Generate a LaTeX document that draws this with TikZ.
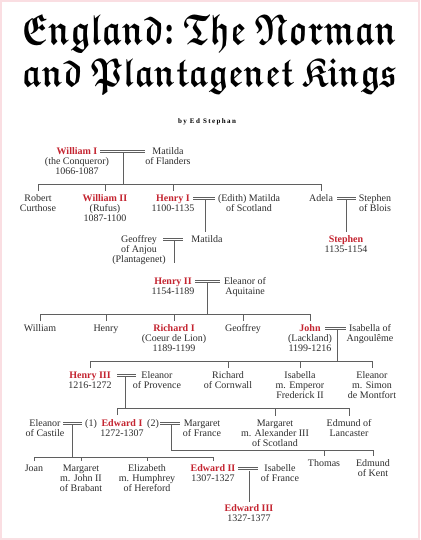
\documentclass[tikz,border=0pt]{standalone}
\usepackage{amssymb}
\usepackage{fontspec}
\setmainfont{Liberation Serif}
\usepackage{graphicx}
\newfontfamily\byfont[LetterSpace=20]{Liberation Serif}
\definecolor{kred}{RGB}{196,36,48}
\definecolor{txt}{RGB}{45,45,45}
\definecolor{ln}{RGB}{95,95,95}
\definecolor{pinkframe}{RGB}{250,222,226}
\newcommand{\kn}[1]{{\bfseries\color{kred}#1}}
\newcommand{\blk}[1]{{\boldmath$\mathfrak{#1}$}}
\begin{document}
\begin{tikzpicture}[x=1pt,y=-1pt,
  person/.style={align=center,anchor=north,inner sep=0pt,font=\fontsize{10}{10}\selectfont,text=txt},
  wed/.style={draw=ln,line width=0.6pt,double=white,double distance=1.6pt},
  kin/.style={draw=ln,line width=0.8pt}]
\useasboundingbox (0,0) rectangle (420,540);
\fill[white] (0,0) rectangle (420,540);
\draw[pinkframe,line width=2.5pt] (1.2,1.2) rectangle (418.8,538.8);

% title
\node[anchor=base,inner sep=0pt] (t1) at (209.5,45) {\resizebox{375pt}{30pt}{\blk{England{:}\ The\ Norman}}};
\node[anchor=base,inner sep=0pt] (t2) at (209.5,87) {\resizebox{375pt}{28pt}{\blk{and\ Plantagenet\ Kings}}};
\node[inner sep=0pt,font=\fontsize{7}{7}\byfont\bfseries,text=black] (by) at (207,122) {by Ed Stephan};

% people
\node[person] (wm1) at (77,147.5) {\kn{William I}\\(the Conqueror)\\1066-1087};
\node[person] (matf) at (168,147.5) {Matilda\\of Flanders};
\node[person] (robert) at (38,194.5) {Robert\\Curthose};
\node[person] (wm2) at (105,194.5) {\kn{William II}\\(Rufus)\\1087-1100};
\node[person] (hen1) at (173,194.5) {\kn{Henry I}\\1100-1135};
\node[person] (edith) at (249,194.5) {(Edith) Matilda\\of Scotland};
\node[person] (adela) at (321,194.5) {Adela};
\node[person] (stepb) at (375,194.5) {Stephen\\of Blois};
\node[person] (geoff) at (139,235.5) {Geoffrey\\of Anjou\\(Plantagenet)};
\node[person] (matil) at (207,235.5) {Matilda};
\node[person] (steph) at (346,235.5) {\kn{Stephen}\\1135-1154};
\node[person] (hen2) at (173,277.5) {\kn{Henry II}\\1154-1189};
\node[person] (elaq) at (245,277.5) {Eleanor of\\Aquitaine};
\node[person] (wil) at (40,324.5) {William};
\node[person] (hen) at (106,324.5) {Henry};
\node[person] (ric1) at (174,324.5) {\kn{Richard I}\\(Coeur de Lion)\\1189-1199};
\node[person] (geo) at (243,324.5) {Geoffrey};
\node[person] (john) at (310,324.5) {\kn{John}\\(Lackland)\\1199-1216};
\node[person] (isang) at (370,324.5) {Isabella of\\Angoulême};
\node[person] (hen3) at (90,371.5) {\kn{Henry III}\\1216-1272};
\node[person] (elprov) at (157,371.5) {Eleanor\\of Provence};
\node[person] (riccorn) at (228,371.5) {Richard\\of Cornwall};
\node[person] (isab) at (300,371.5) {Isabella\\m. Emperor\\Frederick II};
\node[person] (elsim) at (372,371.5) {Eleanor\\m. Simon\\de Montfort};
\node[person] (elcast) at (45,419.5) {Eleanor\\of Castile};
\node[person] (nA) at (91,419.5) {(1)};
\node[person] (ed1) at (122,419.5) {\kn{Edward I}\\1272-1307};
\node[person] (nB) at (153,419.5) {(2)};
\node[person] (marfr) at (202,419.5) {Margaret\\of France};
\node[person] (maralex) at (275,419.5) {Margaret\\m. Alexander III\\of Scotland};
\node[person] (edlanc) at (349,419.5) {Edmund of\\Lancaster};
\node[person] (joan) at (34,464.5) {Joan};
\node[person] (marbrab) at (81,464.5) {Margaret\\m. John II\\of Brabant};
\node[person] (eliz) at (147,464.5) {Elizabeth\\m. Humphrey\\of Hereford};
\node[person] (ed2) at (213,464.5) {\kn{Edward II}\\1307-1327};
\node[person] (isfr) at (280,464.5) {Isabelle\\of France};
\node[person] (thomas) at (324,459.5) {Thomas};
\node[person] (edkent) at (373,459.5) {Edmund\\of Kent};
\node[person] (ed3) at (249,504.5) {\kn{Edward III}\\1327-1377};

% William I + Matilda of Flanders
\coordinate (m1a) at (100,151.5); \coordinate (m1b) at (145,151.5);
\coordinate (c1) at (123,152.5); \coordinate (b1) at (123,184);
\draw[wed] (m1a) -- (m1b);
\draw[kin] (c1) -- (b1);
\draw[kin] ([yshift=3.5pt]robert.north) -- (robert.north |- b1) -- (adela.north |- b1) -- ([yshift=3.5pt]adela.north);
\draw[kin] (wm2.north |- b1) -- ([yshift=3.5pt]wm2.north);
\draw[kin] (hen1.north |- b1) -- ([yshift=3.5pt]hen1.north);

% Henry I + Edith
\coordinate (m2a) at (193,198.5); \coordinate (m2b) at (215,198.5);
\coordinate (c2) at (205,199.5); \coordinate (d2) at (205,232);
\draw[wed] (m2a) -- (m2b);
\draw[kin] (c2) -- (d2);

% Adela + Stephen of Blois
\coordinate (m3a) at (337,198.5); \coordinate (m3b) at (356,198.5);
\coordinate (c3) at (346,199.5);
\draw[wed] (m3a) -- (m3b);
\draw[kin] (c3) -- ([yshift=4pt]steph.north);

% Geoffrey + Matilda
\coordinate (m4a) at (163,239.5); \coordinate (m4b) at (183,239.5);
\coordinate (c4) at (174,240.5); \coordinate (d4) at (174,263);
\draw[wed] (m4a) -- (m4b);
\draw[kin] (c4) -- (d4);

% Henry II + Eleanor of Aquitaine
\coordinate (m5a) at (195,281.5); \coordinate (m5b) at (220,281.5);
\coordinate (c5) at (207,282.5); \coordinate (b5) at (207,314);
\draw[wed] (m5a) -- (m5b);
\draw[kin] (c5) -- (b5);
\draw[kin] ([yshift=3.5pt]wil.north) -- (wil.north |- b5) -- (john.north |- b5) -- ([yshift=3.5pt]john.north);
\draw[kin] (hen.north |- b5) -- ([yshift=3.5pt]hen.north);
\draw[kin] (ric1.north |- b5) -- ([yshift=3.5pt]ric1.north);
\draw[kin] (geo.north |- b5) -- ([yshift=3.5pt]geo.north);

% John + Isabella of Angouleme
\coordinate (m6a) at (325,328.5); \coordinate (m6b) at (346,328.5);
\coordinate (c6) at (337,329.5); \coordinate (b6) at (337,361);
\draw[wed] (m6a) -- (m6b);
\draw[kin] (c6) -- (b6);
\draw[kin] ([yshift=3.5pt]hen3.north) -- (hen3.north |- b6) -- (elsim.north |- b6) -- ([yshift=3.5pt]elsim.north);
\draw[kin] (riccorn.north |- b6) -- ([yshift=3.5pt]riccorn.north);
\draw[kin] (isab.north |- b6) -- ([yshift=3.5pt]isab.north);

% Henry III + Eleanor of Provence
\coordinate (m7a) at (117,375.5); \coordinate (m7b) at (136,375.5);
\coordinate (c7) at (125,376.5); \coordinate (b7) at (125,408);
\coordinate (e1l) at (117,408); \coordinate (e1t) at (117,415);
\draw[wed] (m7a) -- (m7b);
\draw[kin] (c7) -- (b7);
\draw[kin] (e1t) -- (e1l) -- (edlanc.north |- b7) -- ([yshift=3.5pt]edlanc.north);
\draw[kin] (maralex.north |- b7) -- ([yshift=3.5pt]maralex.north);

% Edward I + Eleanor of Castile (1)
\coordinate (m8a) at (63,423.5); \coordinate (m8b) at (82,423.5);
\coordinate (c8) at (72,424.5); \coordinate (b8) at (72,457);
\draw[wed] (m8a) -- (m8b);
\draw[kin] (c8) -- (b8);
\draw[kin] ([yshift=3.5pt]joan.north) -- (joan.north |- b8) -- (ed2.north |- b8) -- ([yshift=3.5pt]ed2.north);
\draw[kin] (marbrab.north |- b8) -- ([yshift=3.5pt]marbrab.north);
\draw[kin] (eliz.north |- b8) -- ([yshift=3.5pt]eliz.north);

% Edward I + Margaret of France (2)
\coordinate (m9a) at (160,423.5); \coordinate (m9b) at (180,423.5);
\coordinate (c9) at (171,424.5); \coordinate (b9) at (171,450);
\draw[wed] (m9a) -- (m9b);
\draw[kin] (c9) -- (b9) -- (edkent.north |- b9) -- ([yshift=3.5pt]edkent.north);
\draw[kin] (thomas.north |- b9) -- ([yshift=3.5pt]thomas.north);

% Edward II + Isabelle of France
\coordinate (m10a) at (238,468.5); \coordinate (m10b) at (258,468.5);
\coordinate (c10) at (249,471);
\draw[wed] (m10a) -- (m10b);
\draw[kin] (c10) -- ([yshift=2.5pt]ed3.north);
\end{tikzpicture}
\end{document}
